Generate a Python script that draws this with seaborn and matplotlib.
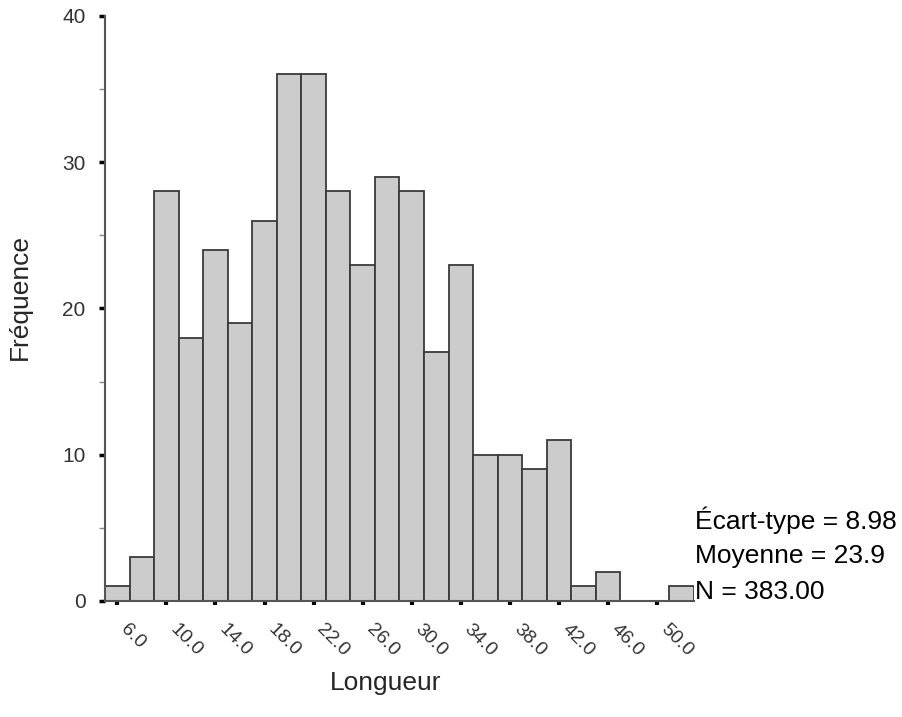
import numpy as np
import pandas as pd
import seaborn as sns
import matplotlib.pyplot as plt

# bin centres (width 2) and counts
longueur = [6, 8, 10, 12, 14, 16, 18, 20, 22, 24, 26, 28,
            30, 32, 34, 36, 38, 40, 42, 44, 46, 48, 50, 52]
frequence = [1, 3, 28, 18, 24, 19, 26, 36, 36, 28, 23, 29,
             28, 17, 23, 10, 10, 9, 11, 1, 2, 0, 0, 1]
x_ticks = [6, 10, 14, 18, 22, 26, 30, 34, 38, 42, 46, 50]
y_ticks = [0, 10, 20, 30, 40]
y_minor = [5, 15, 25, 35]
stats_lines = ['Écart-type = 8.98', 'Moyenne = 23.9', 'N = 383.00']

df = pd.DataFrame({'Longueur': longueur, 'Fréquence': frequence})
x_lo, x_hi = longueur[0] - 1, longueur[-1] + 1

sns.set_style('ticks')
plt.rcParams['font.family'] = ['Liberation Sans', 'DejaVu Sans']

fig = plt.figure(figsize=(9.03, 7.17), dpi=100)
ax = fig.add_axes([0.1163, 0.1618, 0.6522, 0.8159])

sns.histplot(data=df, x='Longueur', weights='Fréquence',
             binwidth=2, binrange=(x_lo, x_hi),
             color='#cccccc', edgecolor='#3a3a3a', linewidth=1.3,
             alpha=1, ax=ax)

ax.set_xlim(x_lo, x_hi)
ax.set_ylim(0, 40)

ax.set_xticks(x_ticks)
ax.set_xticklabels([f'{v:.1f}' for v in x_ticks], rotation=-45,
                   ha='left', va='top', fontsize=14, color='#333333')
ax.set_yticks(y_ticks)
ax.set_yticks(y_minor, minor=True)
ax.set_yticklabels([str(v) for v in y_ticks], fontsize=15, color='#333333')

ax.tick_params(axis='x', direction='out', length=3, width=3, color='black', pad=11)
ax.tick_params(axis='y', which='major', direction='out', length=4, width=2.5,
               color='black', pad=10)
ax.tick_params(axis='y', which='minor', direction='out', length=4, width=1,
               color='#888888')

for side in ['top', 'right']:
    ax.spines[side].set_visible(False)
for side in ['left', 'bottom']:
    ax.spines[side].set_color('#555555')
    ax.spines[side].set_linewidth(1.5)

ax.set_xlabel('Longueur', fontsize=19)
ax.set_ylabel('Fréquence', fontsize=19)
ax.xaxis.set_label_coords(0.477, -0.12)
ax.yaxis.set_label_coords(-0.125, 0.52)

# summary statistics on the right
for i, txt in enumerate(stats_lines):
    fig.text(0.7697, 1 - (520 + 36 * i) / 717, txt, fontsize=19,
             ha='left', va='center', color='black')

fig.savefig('out.png', dpi=100)
